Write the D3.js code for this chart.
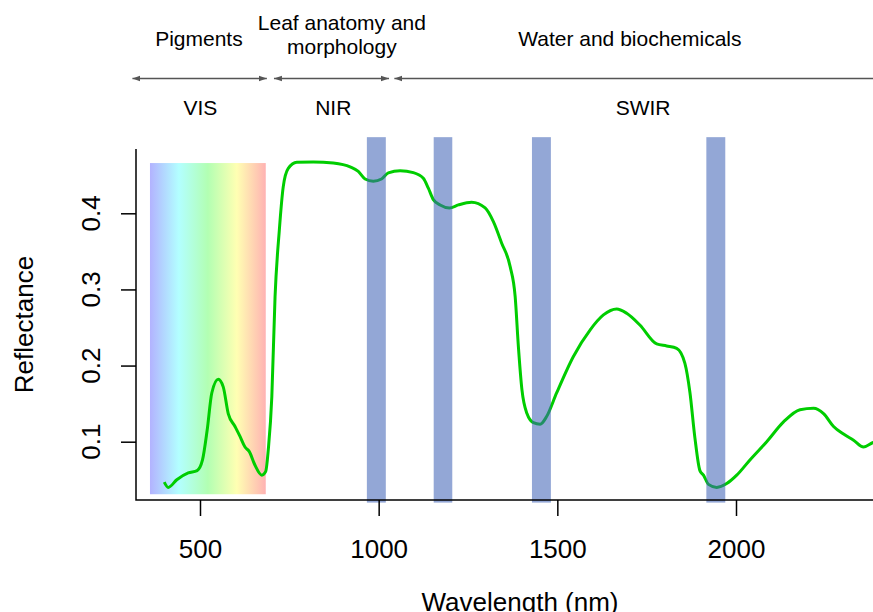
<!DOCTYPE html>
<html>
<head>
<meta charset="utf-8">
<script src="https://cdn.jsdelivr.net/npm/d3@7"></script>
<style>
    body { margin: 0; background: #fff; }
    svg text { font-family: "Liberation Sans", Arial, Helvetica, sans-serif; fill: #000; }
</style>
</head>
<body>
<svg id="chart" width="873" height="612"></svg>
<script>
'use strict';

// spectrum
const wavelength = [400, 411, 435, 467, 492, 507, 520, 533, 551, 565, 579, 598, 612, 626, 638, 654, 673, 684,
    691, 701, 710, 722, 733, 747, 771, 817, 873, 920, 943, 962, 985, 1008, 1027, 1060, 1097, 1125, 1139, 1153,
    1172, 1198, 1223, 1260, 1298, 1321, 1344, 1368, 1382, 1391, 1401, 1415, 1433, 1452, 1470, 1498, 1545, 1592,
    1629, 1666, 1694, 1731, 1778, 1806, 1834, 1857, 1871, 1885, 1899, 1909, 1923, 1946, 1974, 2002, 2039, 2086,
    2133, 2179, 2217, 2245, 2273, 2301, 2329, 2357, 2384, 2400];
const reflectance = [0.047, 0.040, 0.050, 0.059, 0.062, 0.076, 0.115, 0.164, 0.182, 0.172, 0.137, 0.120, 0.107,
    0.093, 0.087, 0.069, 0.056, 0.061, 0.089, 0.159, 0.290, 0.378, 0.435, 0.459, 0.467, 0.4675, 0.466, 0.461,
    0.455, 0.445, 0.442, 0.445, 0.453, 0.456, 0.4535, 0.446, 0.433, 0.418, 0.411, 0.407, 0.411, 0.4146, 0.407,
    0.389, 0.361, 0.330, 0.2905, 0.225, 0.168, 0.137, 0.125, 0.123, 0.133, 0.164, 0.212, 0.247, 0.2665, 0.2744,
    0.2687, 0.2533, 0.2284, 0.2258, 0.2227, 0.203, 0.165, 0.105, 0.062, 0.056, 0.044, 0.040, 0.045, 0.056,
    0.076, 0.100, 0.126, 0.142, 0.144, 0.137, 0.120, 0.110, 0.102, 0.093, 0.099, 0.101];

// water absorption bands (nm) and their vertical extent (reflectance)
const waterBands = [[967, 1020], [1154, 1206], [1429, 1482], [1917, 1970]];
const bandExtent = [0.02, 0.5];

// visible range shaded with a rainbow
const visRange = [360, 684];
const visExtent = [0.031, 0.466];

// regions at the top
const regionArrows = [[311, 687], [707, 1029], [1044, 2600]];
const regionTop = [["Pigments"], ["Leaf anatomy and", "morphology"], ["Water and biochemicals"]];
const regionTopAt = [497, 897, 1703];
const regionBottom = ["VIS", "NIR", "SWIR"];
const regionBottomAt = [501, 873, 1740];

const xTicks = [500, 1000, 1500, 2000];
const yTicks = [0.1, 0.2, 0.3, 0.4];

let svg = d3.select("#chart");

let x = d3.scaleLinear().domain([500, 2000]).range([200, 736]);
let y = d3.scaleLinear().domain([0.1, 0.4]).range([441.7, 213.3]);

let plotLeft = 136, plotTop = 149, plotBottom = 500, plotRight = 873;

let defs = svg.append("defs");
let grad = defs.append("linearGradient")
    .attr("id", "rainbow")
    .attr("x1", "0%").attr("x2", "100%").attr("y1", "0%").attr("y2", "0%");
d3.range(0, 13).forEach(i => {
    let t = i / 12;
    grad.append("stop")
        .attr("offset", (t * 100) + "%")
        .attr("stop-color", d3.hsl(240 * (1 - t), 1, 0.5).formatHex())
        .attr("stop-opacity", 0.3);
});

defs.append("marker")
    .attr("id", "arrowHead")
    .attr("viewBox", "0 0 10 10")
    .attr("refX", 10).attr("refY", 5)
    .attr("markerWidth", 8).attr("markerHeight", 8)
    .attr("markerUnits", "userSpaceOnUse")
    .attr("orient", "auto-start-reverse")
    .append("path")
    .attr("d", "M0,1.5 L10,5 L0,8.5 Z")
    .attr("fill", "#555");

// rainbow area
svg.append("rect")
    .attr("x", x(visRange[0]))
    .attr("y", y(visExtent[1]))
    .attr("width", x(visRange[1]) - x(visRange[0]))
    .attr("height", y(visExtent[0]) - y(visExtent[1]))
    .attr("fill", "url(#rainbow)");

// spectrum
let line = d3.line()
    .curve(d3.curveMonotoneX)
    .x(d => x(d[0]))
    .y(d => y(d[1]));

svg.append("path")
    .datum(d3.zip(wavelength, reflectance))
    .attr("d", line)
    .attr("fill", "none")
    .attr("stroke", "#00cd00")
    .attr("stroke-width", 3)
    .attr("stroke-linejoin", "round");

// water bands on top
svg.selectAll("rect.band")
    .data(waterBands)
    .enter().append("rect")
    .attr("class", "band")
    .attr("x", d => x(d[0]))
    .attr("y", y(bandExtent[1]))
    .attr("width", d => x(d[1]) - x(d[0]))
    .attr("height", y(bandExtent[0]) - y(bandExtent[1]))
    .attr("fill", "rgb(58,95,180)")
    .attr("fill-opacity", 0.55);

// box (L shape)
svg.append("path")
    .attr("d", `M${plotLeft},${plotTop}V${plotBottom}H${plotRight}`)
    .attr("fill", "none")
    .attr("stroke", "#000")
    .attr("stroke-width", 1.5);

let xAxis = svg.append("g")
    .attr("transform", `translate(0,${plotBottom})`)
    .call(d3.axisBottom(x).tickValues(xTicks).tickSize(16).tickPadding(24).tickFormat(d3.format("d")));
xAxis.select(".domain").remove();
xAxis.selectAll(".tick line").attr("stroke", "#000").attr("stroke-width", 1.5);
xAxis.selectAll(".tick text")
    .attr("font-size", 26)
    .attr("font-family", null);

let yAxis = svg.append("g")
    .attr("transform", `translate(${plotLeft},0)`)
    .call(d3.axisLeft(y).tickValues(yTicks).tickSize(15).tickFormat(""));
yAxis.select(".domain").remove();
yAxis.selectAll(".tick line").attr("stroke", "#000").attr("stroke-width", 1.5);

svg.selectAll("text.ylab")
    .data(yTicks)
    .enter().append("text")
    .attr("class", "ylab")
    .attr("transform", d => `translate(100,${y(d)}) rotate(-90)`)
    .attr("text-anchor", "middle")
    .attr("font-size", 26)
    .text(d3.format(".1f"));

svg.append("text")
    .attr("transform", `translate(33,${(plotTop + plotBottom) / 2}) rotate(-90)`)
    .attr("text-anchor", "middle")
    .attr("font-size", 26)
    .text("Reflectance");

svg.append("text")
    .attr("x", 520)
    .attr("y", 611)
    .attr("text-anchor", "middle")
    .attr("font-size", 26)
    .text("Wavelength (nm)");

// region arrows and labels
svg.selectAll("line.region")
    .data(regionArrows)
    .enter().append("line")
    .attr("class", "region")
    .attr("x1", d => x(d[0]))
    .attr("x2", d => x(d[1]))
    .attr("y1", 78.5).attr("y2", 78.5)
    .attr("stroke", "#555")
    .attr("stroke-width", 1.5)
    .attr("marker-start", "url(#arrowHead)")
    .attr("marker-end", "url(#arrowHead)");

regionTop.forEach((lines, i) => {
    let t = svg.append("text")
        .attr("text-anchor", "middle")
        .attr("font-size", 21);
    let base = lines.length > 1 ? 29.5 : 46;
    lines.forEach((s, j) => {
        t.append("tspan")
            .attr("x", x(regionTopAt[i]))
            .attr("y", base + j * 24)
            .text(s);
    });
});

svg.selectAll("text.regionBottom")
    .data(regionBottom)
    .enter().append("text")
    .attr("class", "regionBottom")
    .attr("x", (d, i) => x(regionBottomAt[i]))
    .attr("y", 115)
    .attr("text-anchor", "middle")
    .attr("font-size", 21)
    .text(d => d);
</script>
</body>
</html>
